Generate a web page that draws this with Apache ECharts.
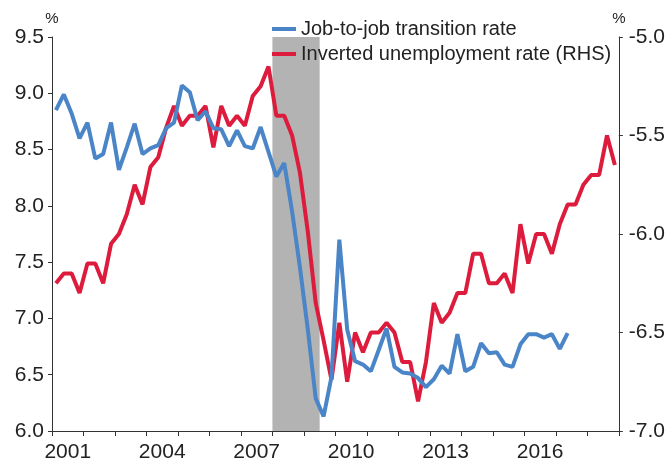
<!DOCTYPE html>
<html>
<head>
<meta charset="utf-8">
<script src="https://cdn.jsdelivr.net/npm/echarts@6/dist/echarts.min.js"></script>
<style>
  html, body { margin: 0; padding: 0; background: #fff; }
  #chart { width: 668px; height: 463px; }
</style>
</head>
<body>
<div id="chart"></div>
<script>
// year labels on the bottom axis
const years = ["2001", "2002", "2003", "2004", "2005", "2006", "2007", "2008", "2009",
  "2010", "2011", "2012", "2013", "2014", "2015", "2016", "2017", "2018"];

// quarterly categories, 2001Q1 .. 2018Q4
const quarters = [];
years.forEach(function (y) {
  for (let q = 1; q <= 4; q++) quarters.push(y + "Q" + q);
});

// job-to-job transition rate, %, left axis (2001Q1 .. 2017Q2)
const jobToJob = [
  8.85, 8.99, 8.82, 8.60, 8.74, 8.42, 8.46, 8.74, 8.32, 8.52, 8.73, 8.46,
  8.51, 8.54, 8.69, 8.74, 9.07, 9.01, 8.76, 8.84, 8.69, 8.68, 8.53, 8.67,
  8.53, 8.51, 8.70, 8.48, 8.26, 8.38, 7.95, 7.45, 6.90, 6.29, 6.13, 6.48,
  7.70, 6.90, 6.62, 6.59, 6.53, 6.72, 6.91, 6.57, 6.52, 6.51, 6.47, 6.39,
  6.46, 6.58, 6.51, 6.86, 6.53, 6.57, 6.78, 6.69, 6.70, 6.59, 6.57, 6.77,
  6.86, 6.86, 6.83, 6.86, 6.73, 6.87
];

// inverted unemployment rate, %, right axis (2001Q1 .. 2018Q4)
const invUnemp = [
  -6.25, -6.20, -6.20, -6.30, -6.15, -6.15, -6.25, -6.05, -6.00, -5.90, -5.75, -5.85,
  -5.66, -5.61, -5.46, -5.35, -5.45, -5.40, -5.40, -5.35, -5.56, -5.35, -5.45, -5.40,
  -5.45, -5.30, -5.25, -5.15, -5.40, -5.40, -5.50, -5.69, -5.99, -6.35, -6.54, -6.74,
  -6.45, -6.75, -6.50, -6.60, -6.50, -6.50, -6.45, -6.50, -6.65, -6.65, -6.85, -6.65,
  -6.35, -6.45, -6.40, -6.30, -6.30, -6.10, -6.10, -6.25, -6.25, -6.20, -6.30, -5.95,
  -6.15, -6.00, -6.00, -6.10, -5.95, -5.85, -5.85, -5.75, -5.70, -5.70, -5.50, -5.65
];

// shaded recession period (in years)
const recession = [2008, 2009.5];

const FONT = "'Liberation Sans', Arial, sans-serif";
const BLUE = "#4a85c8";
const RED = "#dd1b3d";

// quarter label -> position on the year scale (middle of the quarter)
function qx(label) {
  const y = parseInt(label.slice(0, 4), 10);
  const q = parseInt(label.slice(5), 10);
  return y + (q - 0.5) / 4;
}

const chart = echarts.init(document.getElementById("chart"));

const option = {
  animation: false,
  backgroundColor: "#fff",
  textStyle: { fontFamily: FONT },
  grid: { left: 52, right: 49, top: 37, bottom: 30 },
  legend: {
    orient: "vertical",
    left: 267,
    top: 14,
    itemWidth: 24,
    itemHeight: 4,
    itemGap: 5,
    icon: "rect",
    data: ["Job-to-job transition rate", "Inverted unemployment rate (RHS)"],
    textStyle: { fontSize: 20, color: "#222", fontFamily: FONT }
  },
  xAxis: [
    {
      type: "value",
      min: 2001,
      max: 2019,
      show: false
    },
    {
      type: "category",
      data: years,
      boundaryGap: true,
      position: "bottom",
      axisLine: { show: true, lineStyle: { color: "#333", width: 1 } },
      axisTick: { show: true, interval: 0, length: 5, lineStyle: { color: "#333" } },
      axisLabel: { interval: 2, fontSize: 21, color: "#222", margin: 11, fontFamily: FONT },
      splitLine: { show: false }
    }
  ],
  yAxis: [
    {
      type: "value",
      position: "left",
      min: 6,
      max: 9.5,
      interval: 0.5,
      name: "%",
      nameLocation: "end",
      nameGap: 8,
      nameTextStyle: { fontSize: 15, color: "#222", fontFamily: FONT },
      axisLine: { show: true, lineStyle: { color: "#333", width: 1 } },
      axisTick: { show: true, length: 4, lineStyle: { color: "#333" } },
      axisLabel: {
        fontSize: 21, color: "#222", margin: 8, fontFamily: FONT,
        formatter: function (v) { return v.toFixed(1); }
      },
      splitLine: { show: false }
    },
    {
      type: "value",
      position: "right",
      min: -7,
      max: -5,
      interval: 0.5,
      name: "%",
      nameLocation: "end",
      nameGap: 8,
      nameTextStyle: { fontSize: 15, color: "#222", fontFamily: FONT },
      axisLine: { show: true, lineStyle: { color: "#333", width: 1 } },
      axisTick: { show: true, length: 4, lineStyle: { color: "#333" } },
      axisLabel: {
        fontSize: 21, color: "#222", margin: 10, fontFamily: FONT,
        formatter: function (v) { return v.toFixed(1); }
      },
      splitLine: { show: false }
    }
  ],
  series: [
    {
      // recession shading
      name: "recession",
      type: "line",
      xAxisIndex: 0,
      yAxisIndex: 0,
      data: [],
      z: 1,
      silent: true,
      markArea: {
        silent: true,
        itemStyle: { color: "#b3b3b3" },
        data: [[{ xAxis: recession[0] }, { xAxis: recession[1] }]]
      }
    },
    {
      name: "Inverted unemployment rate (RHS)",
      type: "line",
      xAxisIndex: 0,
      yAxisIndex: 1,
      z: 3,
      symbol: "none",
      itemStyle: { color: RED },
      lineStyle: { color: RED, width: 4 },
      data: invUnemp.map(function (v, i) { return [qx(quarters[i]), v]; })
    },
    {
      name: "Job-to-job transition rate",
      type: "line",
      xAxisIndex: 0,
      yAxisIndex: 0,
      z: 4,
      symbol: "none",
      itemStyle: { color: BLUE },
      lineStyle: { color: BLUE, width: 4 },
      data: jobToJob.map(function (v, i) { return [qx(quarters[i]), v]; })
    }
  ]
};

chart.setOption(option);
</script>
</body>
</html>
